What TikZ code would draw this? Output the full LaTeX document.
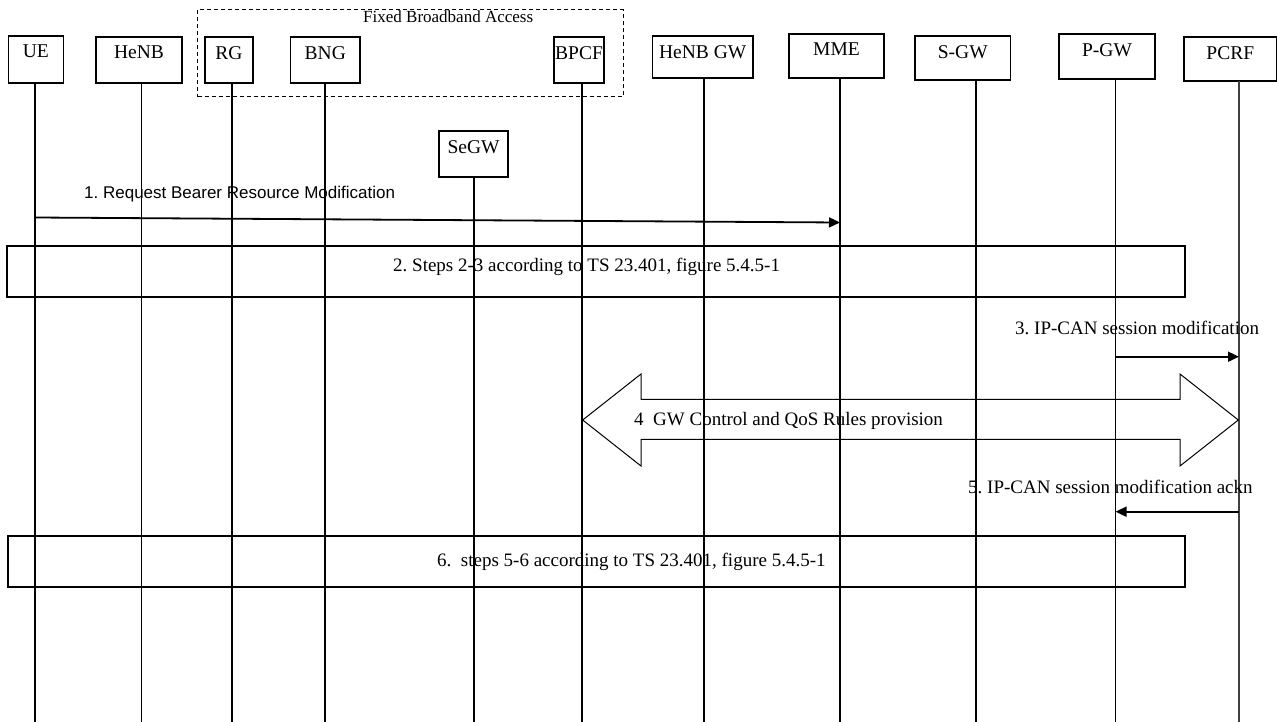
\documentclass[tikz,border=0pt]{standalone}
\usepackage{fontspec}
\setmainfont{Liberation Serif}
\newfontfamily\arialf{Liberation Sans}
\usetikzlibrary{arrows.meta}
\newcommand\lblfont{\fontsize{19.5}{23}\selectfont}
\newcommand\msgfont{\fontsize{19}{23}\selectfont}
\newcommand\fbafont{\fontsize{17}{20}\selectfont}
\newcommand\sansmsg{\arialf\fontsize{17}{20}\selectfont}
\frenchspacing
\begin{document}
\begin{tikzpicture}[x=1pt,y=-1pt,
  ent/.style={draw, line width=1.1pt, inner sep=0pt, outer sep=0pt, anchor=north west},
  lbl/.style={font=\lblfont, inner sep=0pt, anchor=north, yshift=-9pt},
  life/.style={line width=1.1pt},
  msg/.style={line width=1.8pt, -{Triangle[length=11pt,width=10pt]}},
  mtext/.style={font=\msgfont, inner sep=0pt, anchor=base west},
  stepframe/.style={draw, line width=1.1pt, inner sep=0pt, outer sep=0pt, anchor=north west},
  bigarrow/.style={draw, line width=1pt, line join=miter}]
\useasboundingbox (0,0) rectangle (1277,722);
% dashed group
\node[draw, dashed, dash pattern=on 4pt off 3pt, line width=1pt, inner sep=0pt, outer sep=0pt,
      anchor=north west, minimum width=425.4pt, minimum height=86.7pt] (fixed) at (197.6,10) {};
\node[font=\fbafont, inner sep=0pt, anchor=base west] (fixedT) at (363,23) {Fixed Broadband Access};
% entities
\node[ent, minimum width=55pt,   minimum height=47pt] (ue)     at (8.3,36) {};
\node[ent, minimum width=86pt,   minimum height=46pt] (henb)   at (96,37) {};
\node[ent, minimum width=48pt,   minimum height=46pt] (rg)     at (205,37) {};
\node[ent, minimum width=69.4pt, minimum height=46pt] (bng)    at (290.6,37) {};
\node[ent, minimum width=50pt,   minimum height=46pt] (bpcf)   at (554,37) {};
\node[ent, minimum width=69pt,   minimum height=46pt] (segw)   at (439,131) {};
\node[ent, minimum width=100.5pt,minimum height=42pt] (henbgw) at (652.5,36) {};
\node[ent, minimum width=95pt,   minimum height=44pt] (mme)    at (789,34) {};
\node[ent, minimum width=95.5pt, minimum height=44pt] (sgw)    at (915,36) {};
\node[ent, minimum width=96pt,   minimum height=45pt] (pgw)    at (1059,34) {};
\node[ent, minimum width=92.5pt, minimum height=44pt] (pcrf)   at (1184,37) {};
\node[lbl] (ueT)     at (ue.north)     {UE};
\node[lbl] (henbT)   at (henb.north)   {HeNB};
\node[lbl] (rgT)     at (rg.north)     {RG};
\node[lbl] (bngT)    at (bng.north)    {BNG};
\node[lbl] (bpcfT)   at (bpcf.north)   {BPCF};
\node[lbl] (segwT)   at (segw.north)   {SeGW};
\node[lbl] (henbgwT) at (henbgw.north) {HeNB GW};
\node[lbl] (mmeT)    at (mme.north)    {MME};
\node[lbl] (sgwT)    at (sgw.north)    {S-GW};
\node[lbl] (pgwT)    at (pgw.north)    {P-GW};
\node[lbl] (pcrfT)   at (pcrf.north)   {PCRF};
% lifeline ends
\coordinate (ueL) at (35,722);
\coordinate (henbL) at (141.7,722);
\coordinate (rgL) at (232,722);
\coordinate (bngL) at (325,722);
\coordinate (bpcfL) at (582,722);
\coordinate (segwL) at (474,722);
\coordinate (henbgwL) at (704,722);
\coordinate (mmeL) at (840,722);
\coordinate (sgwL) at (976,722);
\coordinate (pgwL) at (1115.5,722);
\coordinate (pcrfL) at (1239,722);
\foreach \n in {ue,henb,rg,bng,bpcf,segw,henbgw,mme,sgw,pgw}
  \draw[life] (\n.south -| \n L) -- (\n L);
\draw[life, line width=1.6pt, black!75] (pcrf.south -| pcrfL) -- (pcrfL);
% step frames
\node[stepframe, minimum width=1178pt, minimum height=51pt] (s2) at (7,246) {};
\node[stepframe, line width=1.6pt, minimum width=1177pt, minimum height=51pt] (s6) at (8,536) {};
% message coordinates
\coordinate (m1a) at (35,217.5);
\coordinate (m1b) at (840,222.5);
\coordinate (m3a) at (1115.5,356.7);
\coordinate (m3b) at (1239,356.7);
\coordinate (m5a) at (1239,511.7);
\coordinate (m5b) at (1115.5,511.7);
\draw[msg] (m1a) -- (m1b);
\draw[msg] (m3a) -- (m3b);
\draw[msg] (m5a) -- (m5b);
% big double arrow
\coordinate (d4L) at (582.7,420);
\coordinate (d4R) at (1238.3,420);
\draw[bigarrow] (d4L) -- (641,374) -- (641,399.3) -- (1180,399.3) -- (1180,374) -- (d4R)
  -- (1180,466) -- (1180,439.3) -- (641,439.3) -- (641,466) -- cycle;
% texts
\node[font=\sansmsg, inner sep=0pt, anchor=base west] (t1) at (84,199) {1. Request Bearer Resource Modification};
\node[mtext] (t2) at (393,271.5) {2. Steps 2-3 according to TS 23.401, figure 5.4.5-1};
\node[mtext] (t3) at (1015,334) {3. IP-CAN session modification};
\node[mtext] (t4) at (634,425) {4\ \ GW Control and QoS Rules provision};
\node[mtext] (t5) at (968,493) {5. IP-CAN session modification ackn};
\node[mtext] (t6) at (437,566) {6.\ \ steps 5-6 according to TS 23.401, figure 5.4.5-1};
\end{tikzpicture}
\end{document}
